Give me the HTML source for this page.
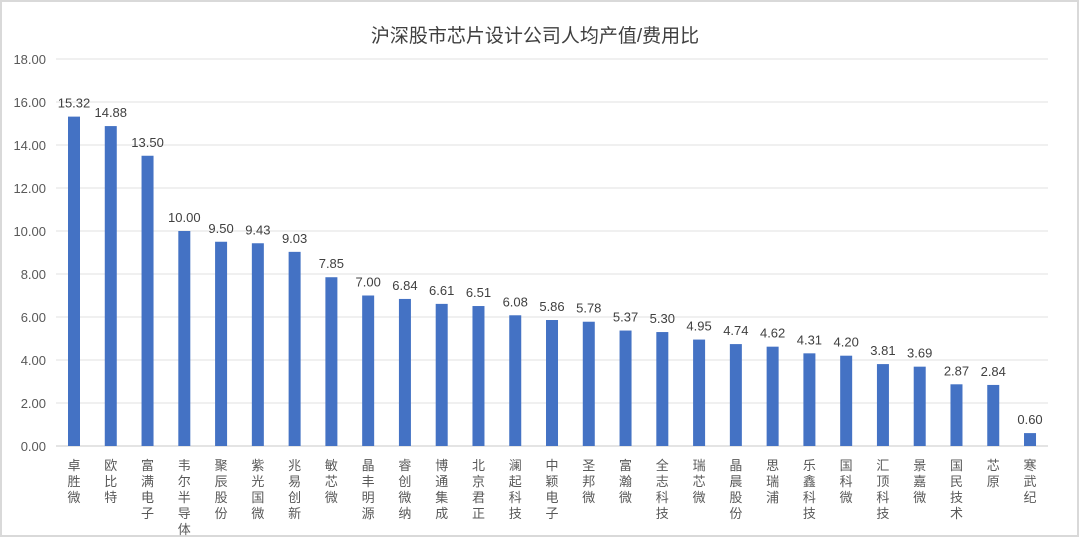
<!DOCTYPE html>
<html><head><meta charset="utf-8"><style>
html,body{margin:0;padding:0;background:#fff;}
svg{display:block;font-family:"Liberation Sans","Noto Sans CJK SC",sans-serif;}
</style></head><body>
<svg width="1080" height="538" viewBox="0 0 1080 538">
<rect x="1" y="1" width="1077" height="535" fill="#fff" stroke="#d9d9d9" stroke-width="2"/>
<text x="535" y="42" font-size="19" text-anchor="middle" fill="#404040">沪深股市芯片设计公司人均产值/费用比</text>
<g id="g"></g>
</svg>
<script>
var names=["卓胜微","欧比特","富满电子","韦尔半导体","聚辰股份","紫光国微","兆易创新","敏芯微","晶丰明源","睿创微纳","博通集成","北京君正","澜起科技","中颖电子","圣邦微","富瀚微","全志科技","瑞芯微","晶晨股份","思瑞浦","乐鑫科技","国科微","汇顶科技","景嘉微","国民技术","芯原","寒武纪"];
var vals=[15.32,14.88,13.50,10.00,9.50,9.43,9.03,7.85,7.00,6.84,6.61,6.51,6.08,5.86,5.78,5.37,5.30,4.95,4.74,4.62,4.31,4.20,3.81,3.69,2.87,2.84,0.60];
var s='',y0=446,k=21.5;
for(var i=0;i<=9;i++){var y=y0-i*2*k;s+='<line x1="56" x2="1048" y1="'+y+'" y2="'+y+'" stroke="'+(i?'#e0e0e0':'#c8c8c8')+'" stroke-width="1"/>';
s+='<text x="46" y="'+(y+5)+'" font-size="13" text-anchor="end" fill="#595959">'+(i*2).toFixed(2)+'</text>';}
for(var j=0;j<27;j++){var cx=74+j*36.77,h=vals[j]*k;
s+='<rect x="'+(cx-6)+'" y="'+(y0-h)+'" width="12" height="'+h+'" fill="#4472c4"/>';
s+='<text x="'+cx+'" y="'+(y0-h-9)+'" font-size="13" text-anchor="middle" fill="#404040">'+vals[j].toFixed(2)+'</text>';
for(var c=0;c<names[j].length;c++)s+='<text x="'+cx+'" y="'+(470+c*16)+'" font-size="13" text-anchor="middle" fill="#595959">'+names[j][c]+'</text>';}
document.getElementById('g').innerHTML=s;
</script>
</body></html>
